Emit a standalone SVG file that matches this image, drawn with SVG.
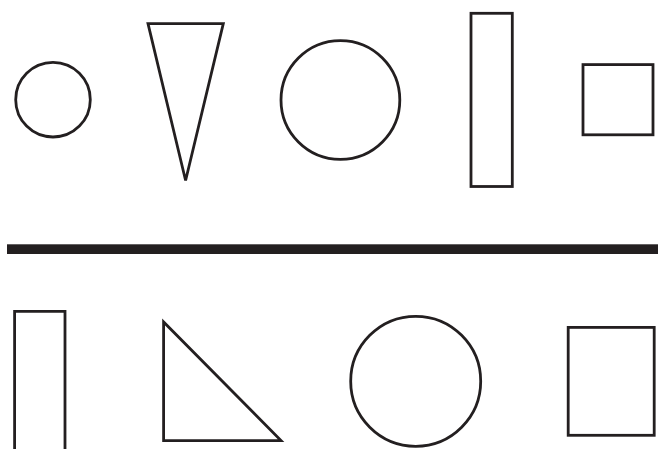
<svg xmlns="http://www.w3.org/2000/svg" width="658" height="449" viewBox="0 0 658 449">
<style>
.s{fill:none;stroke:#231f20;stroke-width:2.8;stroke-linejoin:miter}
</style>
<rect width="658" height="449" fill="#fff"/>
<g id="top-small-circle"><circle class="s" cx="53" cy="99.7" r="37.3"/></g>
<g id="top-triangle"><polygon class="s" points="148,23.6 223.3,23.6 185.6,180.5"/></g>
<g id="top-big-circle"><circle class="s" cx="340.4" cy="100" r="59.4"/></g>
<g id="top-tall-rect"><rect class="s" x="471" y="13.3" width="41.3" height="173.2"/></g>
<g id="top-square"><rect class="s" x="583" y="64.6" width="70" height="70.2"/></g>
<g id="divider"><rect x="7" y="244.3" width="651" height="9.7" fill="#231f20"/></g>
<g id="bottom-tall-rect"><path class="s" d="M14.6,449 V311.4 H65 V449"/></g>
<g id="bottom-triangle"><polygon class="s" points="163.6,322 163.6,440.6 281,440.6"/></g>
<g id="bottom-circle"><circle class="s" cx="415.7" cy="381.3" r="65"/></g>
<g id="bottom-square"><rect class="s" x="568.2" y="327.4" width="86" height="107.9"/></g>
<g id="connectors"></g>
</svg>
